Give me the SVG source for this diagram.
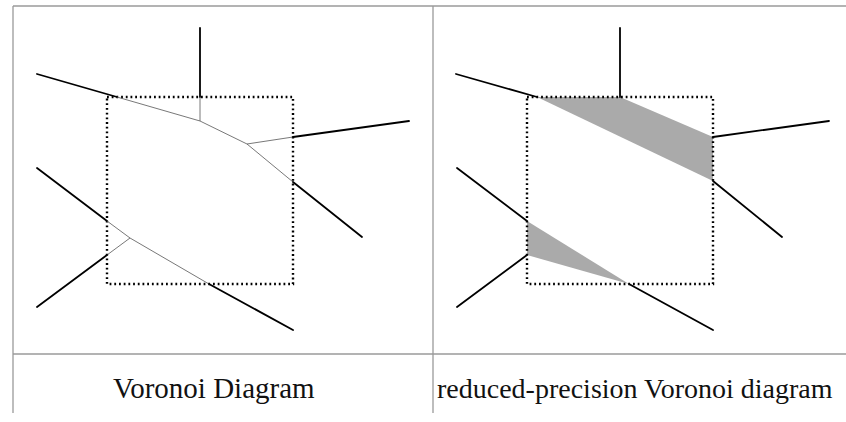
<svg xmlns="http://www.w3.org/2000/svg" width="846" height="422" viewBox="0 0 846 422">
<style>
.grid{stroke:#9a9a9a;stroke-width:1.3;fill:none}
.thick{stroke:#000;stroke-width:1.8;fill:none;stroke-linecap:round}
.thin{stroke:#555;stroke-width:0.8;fill:none}
.box{stroke:#000;stroke-width:2.4;fill:none;stroke-dasharray:1.8 2.9}
.shade{fill:#aaaaaa;stroke:none}
.lbl{font-family:"Liberation Serif","Times New Roman",serif;font-size:29px;fill:#111}
</style>
<rect width="846" height="422" fill="#fff"/>
<g id="table">
<line class="grid" x1="13" y1="6" x2="846" y2="6"/>
<line class="grid" x1="13" y1="6" x2="13" y2="413"/>
<line class="grid" x1="433" y1="6" x2="433" y2="413"/>
<line class="grid" x1="13" y1="354" x2="846" y2="354"/>
</g>
<g id="voronoi">
<rect class="box" x="107" y="97" width="186" height="187"/>
<g id="voronoi-edges">
<line class="thick" x1="200" y1="28" x2="200" y2="97"/>
<line class="thin" x1="200" y1="97" x2="200" y2="121"/>
<line class="thick" x1="37" y1="74" x2="117" y2="97"/>
<polyline class="thin" points="117,97 200,121 247,144 293,137"/>
<line class="thick" x1="293" y1="137" x2="409" y2="121"/>
<line class="thin" x1="247" y1="144" x2="293" y2="182"/>
<line class="thick" x1="293" y1="182" x2="362" y2="237"/>
<line class="thick" x1="37" y1="168" x2="107" y2="221"/>
<polyline class="thin" points="107,221 130,238 107,255"/>
<line class="thick" x1="107" y1="255" x2="37" y2="307"/>
<line class="thin" x1="130" y1="238" x2="209" y2="284"/>
<line class="thick" x1="209" y1="284" x2="293" y2="330"/>
</g>
<text class="lbl" x="113" y="398">Voronoi Diagram</text>
</g>
<g id="reduced">
<polygon class="shade" points="537,97 620,97 713,137 713,181"/>
<polygon class="shade" points="527,221 527,255 629,284"/>
<rect class="box" x="527" y="97" width="186" height="187"/>
<g id="reduced-edges">
<line class="thick" x1="620" y1="28" x2="620" y2="97"/>
<line class="thick" x1="456" y1="74" x2="537" y2="97"/>
<line class="thick" x1="713" y1="137" x2="829" y2="121"/>
<line class="thick" x1="713" y1="181" x2="782" y2="237"/>
<line class="thick" x1="457" y1="168" x2="527" y2="221"/>
<line class="thick" x1="527" y1="255" x2="457" y2="307"/>
<line class="thick" x1="629" y1="284" x2="713" y2="330"/>
</g>
<text class="lbl" x="437" y="398" style="font-size:28px">reduced-precision Voronoi diagram</text>
</g>
</svg>
